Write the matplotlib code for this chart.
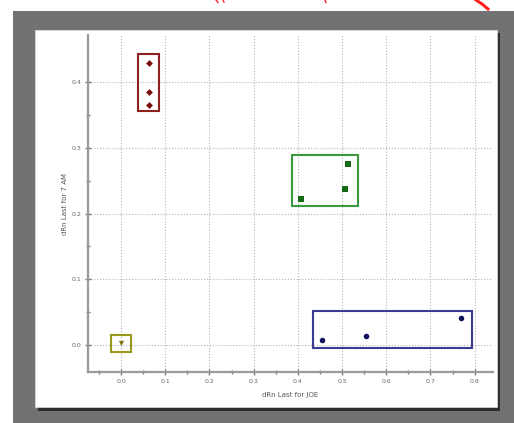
import matplotlib
matplotlib.use("Agg")
import matplotlib.pyplot as plt
from matplotlib.patches import Rectangle
from matplotlib.lines import Line2D
import numpy as np

# ---- data ----
red_x = [0.064, 0.064, 0.064]
red_y = [0.429, 0.385, 0.365]
green_x = [0.514, 0.507, 0.407]
green_y = [0.275, 0.237, 0.222]
blue_x = [0.455, 0.555, 0.770]
blue_y = [0.008, 0.014, 0.041]
olive_x = [0.0]
olive_y = [0.003]

# group boxes: (x0, x1, y0, y1)
red_box = [0.039, 0.086, 0.356, 0.443]
green_box = [0.386, 0.536, 0.212, 0.289]
blue_box = [0.434, 0.793, -0.005, 0.052]
olive_box = [-0.023, 0.023, -0.011, 0.015]

x_ticks = [0.0, 0.1, 0.2, 0.3, 0.4, 0.5, 0.6, 0.7, 0.8]
y_ticks = [0.0, 0.1, 0.2, 0.3, 0.4]
x_label = "dRn Last for JOE"
y_label = "dRn Last for 7 AM"

W, H = 514, 423
fig = plt.figure(figsize=(W / 100, H / 100), dpi=100)
fig.patch.set_facecolor("white")

def px_rect(x0, y0, x1, y1, **kw):
    # pixel coords (top-left origin) -> figure fraction
    r = Rectangle((x0 / W, 1 - y1 / H), (x1 - x0) / W, (y1 - y0) / H,
                  transform=fig.transFigure, **kw)
    fig.add_artist(r)

def px_line(xs, ys, **kw):
    fig.add_artist(Line2D([x / W for x in xs], [1 - y / H for y in ys],
                          transform=fig.transFigure, **kw))

# gray surround, page shadow and white page
px_rect(13, 11, 514, 423, facecolor="#727272", edgecolor="none", zorder=0)
px_rect(38, 33, 500, 411, facecolor="#2e2e2e", edgecolor="none", zorder=0.5)
px_rect(35, 30, 497, 407, facecolor="white", edgecolor="#dddddd", lw=0.5, zorder=1)

# red annotation strokes at the top
red = "#ff2020"
px_line([216, 218], [0, 2.5], color=red, lw=1.0, zorder=5)
px_line([223, 224], [0, 2], color=red, lw=1.0, zorder=5)
px_line([325, 326], [0, 2.5], color=red, lw=1.0, zorder=5)
px_line([476, 482, 488], [0, 4, 9], color=red, lw=2.2, zorder=5)

# axes
x0p, x1p, y0p, y1p = 88, 493, 35, 372
ax = fig.add_axes([x0p / W, 1 - y1p / H, (x1p - x0p) / W, (y1p - y0p) / H], zorder=2)
ax.set_facecolor("none")
ax.set_xlim(-0.0747, 0.8416)
ax.set_ylim(-0.0411, 0.4718)

for s in ["top", "right"]:
    ax.spines[s].set_visible(False)
for s in ["left", "bottom"]:
    ax.spines[s].set_color("#9a9a9a")
    ax.spines[s].set_linewidth(1.6)

ax.set_xticks(x_ticks)
ax.set_xticklabels([f"{v:.1f}" for v in x_ticks])
ax.set_yticks(y_ticks)
ax.set_yticklabels([f"{v:.1f}" for v in y_ticks])
ax.set_xticks([-0.05 + 0.1 * i for i in range(9)], minor=True)
ax.set_yticks([0.05 + 0.1 * i for i in range(4)], minor=True)
ax.tick_params(axis="both", which="major", direction="inout", length=4, width=1,
               color="#777777", labelsize=4.5, labelcolor="#666666", pad=3)
ax.tick_params(axis="both", which="minor", direction="inout", length=3, width=1,
               color="#777777")

ax.grid(True, which="major", linestyle=(0, (1, 1.6)), color="#b5b5b5", linewidth=0.8)
ax.set_axisbelow(True)

ax.set_xlabel(x_label, fontsize=5, color="#555555", labelpad=6)
ax.set_ylabel(y_label, fontsize=5, color="#555555", labelpad=2)

# boxes
def draw_box(b, color):
    ax.add_patch(Rectangle((b[0], b[2]), b[1] - b[0], b[3] - b[2], fill=False,
                           edgecolor=color, linewidth=1.5, zorder=3))

draw_box(red_box, "#8e2020")
draw_box(green_box, "#3c9a3c")
draw_box(blue_box, "#3a3a96")
draw_box(olive_box, "#9a9a1e")

# points
ax.scatter(red_x, red_y, marker="D", s=12, color="#7a0a0a", zorder=4, linewidths=0)
ax.scatter(green_x, green_y, marker="s", s=13, color="#146a14", zorder=4, linewidths=0)
ax.scatter(blue_x, blue_y, marker="o", s=16, color="#10105e", zorder=4, linewidths=0)
ax.scatter(olive_x, olive_y, marker="v", s=14, color="#7a7a10", zorder=4, linewidths=0)

fig.savefig("out.png", dpi=100, facecolor=fig.get_facecolor())
